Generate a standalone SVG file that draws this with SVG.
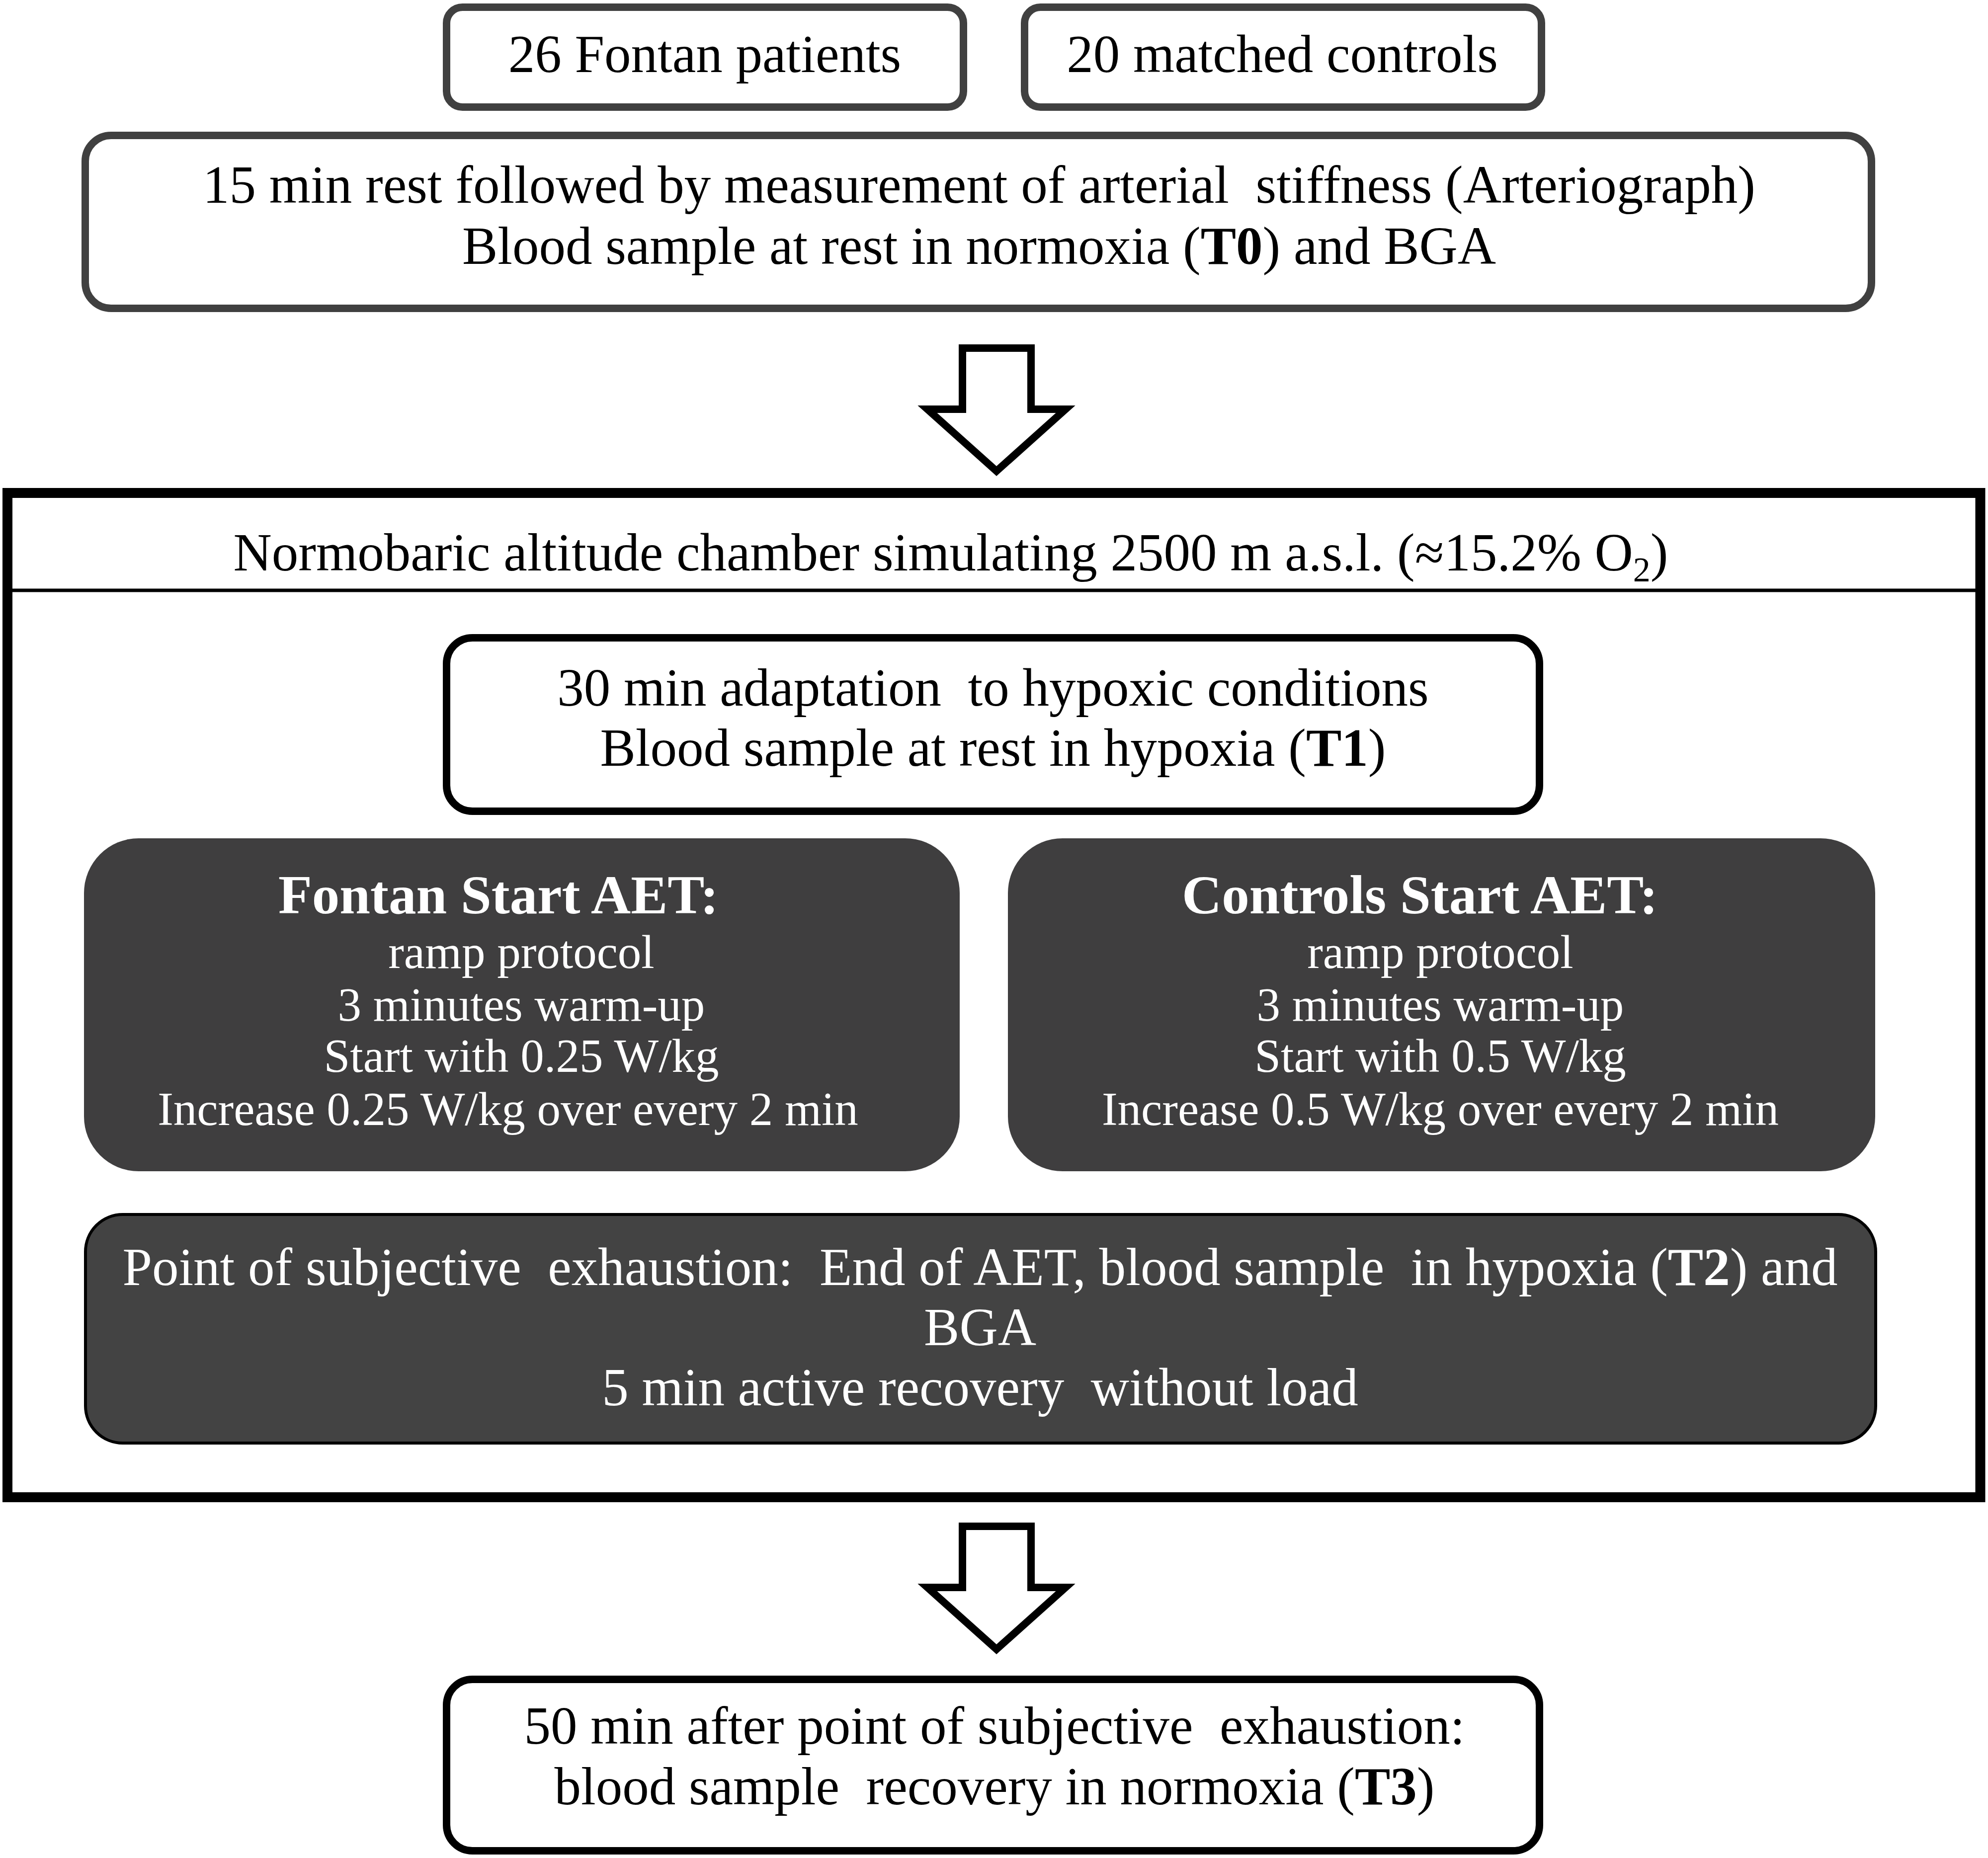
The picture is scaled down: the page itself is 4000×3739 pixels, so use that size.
<svg xmlns="http://www.w3.org/2000/svg" width="4000" height="3739" viewBox="0 0 4000 3739">
<style>
.t{font-family:"Liberation Serif","Times New Roman",serif;font-size:107px;fill:#000;text-anchor:middle;white-space:pre}
.w{fill:#fff;font-size:95px}
.wb{fill:#fff;font-size:111px;font-weight:bold}
.wt{fill:#fff}
.b{font-weight:bold}
.gray{fill:#fff;stroke:#404040;stroke-width:15}
.blk{fill:#fff;stroke:#000;stroke-width:15}
.dark{fill:#3f3e3f}
.dark2{fill:#434343;stroke:#000;stroke-width:6}
.arrow{fill:#fff;stroke:#000;stroke-width:15;stroke-linejoin:miter;stroke-miterlimit:10}
</style>
<rect width="4000" height="3739" fill="#fff"/>
<g id="patients">
<rect class="gray" x="898.5" y="14.5" width="1040" height="201" rx="32"/>
<text class="t" x="1418" y="145">26 Fontan patients</text>
</g>
<g id="controls">
<rect class="gray" x="2061.5" y="14.5" width="1040" height="201" rx="32"/>
<text class="t" x="2580" y="145">20 matched controls</text>
</g>
<g id="rest">
<rect class="gray" x="171.5" y="272.5" width="3594" height="348" rx="52"/>
<text class="t" x="1970" y="408">15 min rest followed by measurement of arterial  stiffness (Arteriograph)</text>
<text class="t" x="1970" y="531">Blood sample at rest in normoxia (<tspan class="b">T0</tspan>) and BGA</text>
</g>
<g id="chamber">
<rect x="15" y="992" width="3969.5" height="2021" fill="none" stroke="#000" stroke-width="20"/>
<line x1="15" y1="1188" x2="3984" y2="1188" stroke="#000" stroke-width="7"/>
<text class="t" x="1913" y="1148">Normobaric altitude chamber simulating 2500 m a.s.l. (≈15.2% O<tspan font-size="70" dy="22">2</tspan><tspan dy="-22">)</tspan></text>
</g>
<g id="adaptation">
<rect class="blk" x="898.5" y="1283.5" width="2199" height="349" rx="52"/>
<text class="t" x="1998" y="1420">30 min adaptation  to hypoxic conditions</text>
<text class="t" x="1998" y="1541">Blood sample at rest in hypoxia (<tspan class="b">T1</tspan>)</text>
</g>
<g id="fontan-aet">
<rect class="dark" x="169" y="1687" width="1762" height="670" rx="110"/>
<text class="t wb" x="1003" y="1838">Fontan Start AET:</text>
<text class="t w" x="1049" y="1948">ramp protocol</text>
<text class="t w" x="1049" y="2054">3 minutes warm-up</text>
<text class="t w" x="1049" y="2157">Start with 0.25 W/kg</text>
<text class="t w" x="1022" y="2264">Increase 0.25 W/kg over every 2 min</text>
</g>
<g id="controls-aet">
<rect class="dark" x="2028" y="1687" width="1745" height="670" rx="110"/>
<text class="t wb" x="2857" y="1838">Controls Start AET:</text>
<text class="t w" x="2898" y="1948">ramp protocol</text>
<text class="t w" x="2898" y="2054">3 minutes warm-up</text>
<text class="t w" x="2898" y="2157">Start with 0.5 W/kg</text>
<text class="t w" x="2898" y="2264">Increase 0.5 W/kg over every 2 min</text>
</g>
<g id="exhaustion">
<rect class="dark2" x="172" y="2444" width="3602" height="460" rx="75"/>
<text class="t wt" x="1972" y="2586">Point of subjective  exhaustion:  End of AET, blood sample  in hypoxia (<tspan class="b">T2</tspan>) and</text>
<text class="t wt" x="1972" y="2707">BGA</text>
<text class="t wt" x="1972" y="2828">5 min active recovery  without load</text>
</g>
<g id="recovery">
<rect class="blk" x="898.5" y="3379.5" width="2199" height="345" rx="52"/>
<text class="t" x="2001" y="3509">50 min after point of subjective  exhaustion:</text>
<text class="t" x="2001" y="3631">blood sample  recovery in normoxia (<tspan class="b">T3</tspan>)</text>
</g>
<g id="connectors">
<polygon class="arrow" points="1936.5,700.5 2074.5,700.5 2074.5,823.5 2144,823.5 2005,948 1866,823.5 1936.5,823.5"/>
<polygon class="arrow" points="1936.5,3071.5 2074.5,3071.5 2074.5,3194.5 2144,3194.5 2005,3319 1866,3194.5 1936.5,3194.5"/>
</g>
</svg>
